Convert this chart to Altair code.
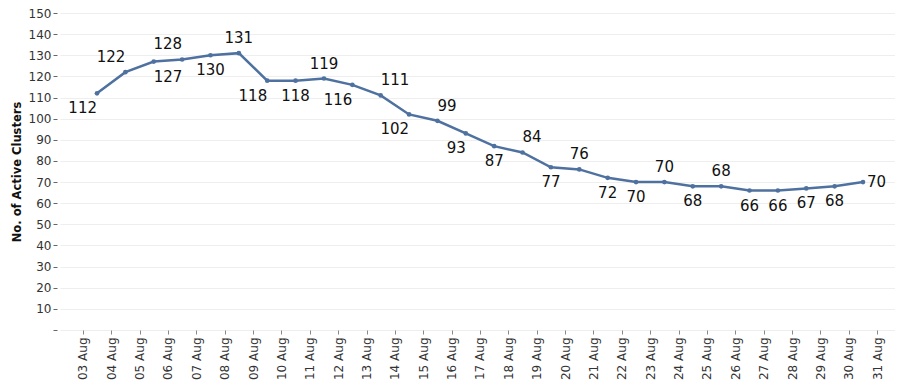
import altair as alt
import pandas as pd

dates = ["03 Aug", "04 Aug", "05 Aug", "06 Aug", "07 Aug", "08 Aug", "09 Aug",
         "10 Aug", "11 Aug", "12 Aug", "13 Aug", "14 Aug", "15 Aug", "16 Aug",
         "17 Aug", "18 Aug", "19 Aug", "20 Aug", "21 Aug", "22 Aug", "23 Aug",
         "24 Aug", "25 Aug", "26 Aug", "27 Aug", "28 Aug", "29 Aug", "30 Aug"]
clusters = [112, 122, 127, 128, 130, 131, 118, 118, 119, 116, 111, 102, 99, 93,
            87, 84, 77, 76, 72, 70, 70, 68, 68, 66, 66, 67, 68, 70]
placement = ["bl", "al", "br", "al", "b", "a", "bl", "b", "a", "bl", "ar", "bl",
             "ar", "bl", "b", "ar", "b", "a", "b", "b", "a", "b", "a", "b", "b",
             "b", "b", "r"]
tick_days = list(range(3, 32))

df = pd.DataFrame({
    "date": dates,
    "day": [int(d[:2]) for d in dates],
    "clusters": clusters,
    "pos": placement,
})

LINE = "#4f71a0"

x_enc = alt.X("x:Q",
              scale=alt.Scale(domain=[2.196, 31.628], nice=False, zero=False),
              axis=alt.Axis(values=tick_days, tickCount=60,
                            labelExpr="(datum.value < 10 ? '0' : '') + datum.value + ' Aug'",
                            labelAngle=-90, labelFontSize=12, labelColor="#333",
                            labelFont="DejaVu Sans", tickSize=4, tickColor="#888",
                            labelPadding=3, labelOverlap=False, grid=False,
                            domain=False, title=None))
y_enc = alt.Y("clusters:Q",
              scale=alt.Scale(domain=[0, 150], nice=False),
              axis=alt.Axis(values=list(range(0, 151, 10)), tickCount=40,
                            labelExpr="datum.value == 0 ? '' : datum.label",
                            labelFontSize=12, labelColor="#333", labelFont="DejaVu Sans",
                            labelOverlap=False, offset=3,
                            tickSize=4, tickColor="#666", labelPadding=2,
                            grid=True, gridColor="#eeeeee", domain=False,
                            title="No. of Active Clusters", titleFont="DejaVu Sans",
                            titleFontSize=11.5, titleFontWeight="bold", titleColor="#111",
                            titlePadding=6))

base = alt.Chart(df).transform_calculate(x="datum.day + 0.5")

line = base.mark_line(color=LINE, strokeWidth=2.5).encode(x=x_enc, y=y_enc)
pts = base.mark_circle(color=LINE, size=22, opacity=1).encode(x="x:Q", y="clusters:Q")

offsets = {
    "a": dict(align="center", dx=0, dy=-15),
    "b": dict(align="center", dx=0, dy=15),
    "al": dict(align="right", dx=0, dy=-15),
    "bl": dict(align="right", dx=0, dy=15),
    "ar": dict(align="left", dx=0, dy=-15),
    "br": dict(align="left", dx=0, dy=15),
    "r": dict(align="left", dx=4, dy=0),
}

layers = [line, pts]
for key, o in offsets.items():
    layers.append(
        base.transform_filter(alt.datum.pos == key)
        .mark_text(font="DejaVu Sans", fontSize=15, color="#111", baseline="middle", **o)
        .encode(x="x:Q", y="clusters:Q", text="clusters:Q")
    )

chart = alt.layer(*layers).properties(
    width=835, height=317,
    autosize=alt.AutoSizeParams(type="none"),
    padding={"left": 52, "top": 5, "right": 0, "bottom": 52},
).configure_view(stroke=None)

chart.save("out.html", embed_options={"renderer": "svg", "actions": False})
